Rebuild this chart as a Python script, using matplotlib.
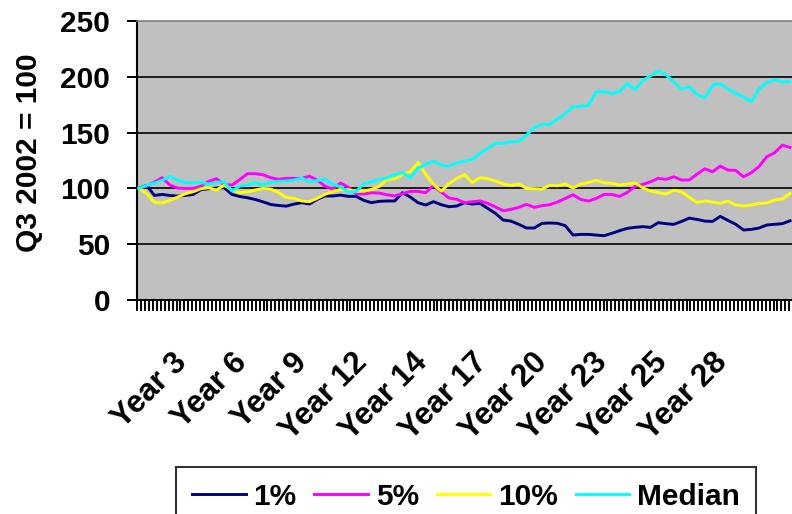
import numpy as np
import matplotlib
matplotlib.use("Agg")
import matplotlib.pyplot as plt
from matplotlib.ticker import FixedLocator

# Index values (Q3 2002 = 100) for each percentile path
p1 = [100, 102.7, 93.7, 94.6, 93.7, 93.1, 93.7, 94.6, 98.8, 99.7, 100.3, 100.6, 94.6, 92.8,
      91.6, 90.1, 88, 85.6, 84.7, 84.1, 85.9, 87.2, 86, 90.2, 93.2, 93.2, 94, 92.9, 92.9,
      89.3, 87.2, 88.4, 88.7, 88.7, 96.1, 92.3, 87.2, 85.1, 88.1, 85.4, 83.6, 84.2, 87.2,
      86, 86.6, 82.1, 77.6, 71.6, 70.7, 67.8, 64.5, 64.5, 68.7, 69, 68.7, 66.6, 58.2, 58.8,
      58.8, 58.2, 57.6, 59.7, 62.1, 64.2, 65.1, 65.7, 65.1, 69.3, 68.4, 67.8, 70.4, 73.4,
      72.2, 70.7, 70.4, 74.9, 71.3, 67.8, 62.7, 63.3, 64.5, 67.2, 67.8, 68.4, 71]
p5 = [100, 101.8, 105.7, 109.6, 103, 100.3, 100, 100, 102, 106.3, 108.7, 103.3, 103, 107.8,
      113.2, 113.2, 112.3, 109.6, 108.1, 109, 109, 108.9, 111, 107.4, 102.1, 99.4, 104.8,
      101.2, 95.2, 94.9, 96.1, 95.8, 94.3, 93.2, 95.2, 97.3, 97.3, 96.1, 102.7, 96.7, 91.4,
      90.2, 87.2, 88.1, 88.7, 86.6, 83.3, 80, 81.2, 83, 85.7, 83, 84.5, 85.4, 87.8, 91, 94.3,
      90.1, 88.7, 91, 94.6, 94.6, 92.8, 96.4, 101.8, 103.6, 106, 109, 108.1, 110.4, 107.5,
      107.5, 112.8, 117.6, 114.9, 120, 116.4, 116.1, 110.4, 114, 119.7, 128.4, 131.9, 138.8,
      136.7]
p10 = [100, 95.5, 87.7, 87.1, 89.2, 92.2, 95.2, 97, 99.7, 100.6, 98.5, 102.7, 98.8, 96.1, 97,
       98.5, 100, 99.4, 96.4, 91.9, 91, 88.7, 88.1, 91.1, 94.6, 97.3, 99.1, 98.8, 97.3, 97.6,
       99.1, 101.8, 108, 108.6, 112.5, 114.9, 123, 112.5, 103.6, 97.6, 104.2, 108.9, 112.5,
       105.1, 109.6, 108.7, 106.6, 103.9, 102.7, 103.9, 100, 99.7, 99.4, 102.7, 102.4, 103.9,
       100.3, 103.9, 105.4, 107.2, 105.1, 104.5, 103, 103.9, 104.8, 100.6, 97.6, 96.4, 94.9,
       98.2, 97, 91.9, 87.5, 88.7, 87.8, 86.6, 88.7, 85.1, 84.2, 85.1, 86.6, 86.9, 89.6, 90.4,
       95.5]
median = [100, 102.7, 104.8, 107.2, 110.8, 107.2, 105.1, 105.1, 105.1, 103.9, 105.4, 105.7,
          97.6, 102.1, 103, 105.1, 103, 105.4, 106.3, 106.6, 107.5, 109.2, 106, 107.1, 108,
          103.6, 101.5, 97, 97, 104.2, 106, 108, 109.5, 112.2, 114.3, 109.5, 117.9, 121.7,
          124.4, 121.1, 119.9, 122.9, 124.4, 126, 131.3, 135.8, 140.6, 140.3, 141.8, 142.4,
          147.8, 154.6, 157.3, 157.3, 162.1, 167.2, 173.1, 173.7, 174.3, 186.6, 186.6, 185.1,
          186.6, 194, 188.4, 196.7, 200.9, 205.4, 201.8, 195.5, 189, 191, 184.2, 181.2, 192.5,
          193.7, 189, 185.1, 181.8, 177.6, 189.3, 194.9, 197.3, 195.5, 196.1]

series_names = ["1%", "5%", "10%", "Median"]
year_labels = ["Year 3", "Year 6", "Year 9", "Year 12", "Year 14",
               "Year 17", "Year 20", "Year 23", "Year 25", "Year 28"]
y_ticks = [0, 50, 100, 150, 200, 250]

plt.rcParams["font.family"] = ["Liberation Sans", "DejaVu Sans"]
plt.rcParams["font.weight"] = "bold"
FS = 21.5

fig = plt.figure(figsize=(7.92, 5.14), dpi=100)
ax = fig.add_axes([137 / 792, 214 / 514, 655 / 792, 279 / 514])
ax.set_facecolor("#C0C0C0")

# horizontal gridlines inside the plot area
for yv in y_ticks[1:-1]:
    ax.axhline(yv, color="black", lw=1.2, zorder=1)

colors = ["#000080", "#FF00FF", "#FFFF00", "#00FFFF"]
x = np.arange(len(p1))
for vals, name, c in zip([p1, p5, p10, median], series_names, colors):
    ax.plot(x, vals, color=c, lw=2.1, label=name, zorder=3)

ax.set_xlim(-0.245, 84.25)
ax.set_ylim(0, 250)

# spines
ax.spines["right"].set_visible(False)
ax.spines["top"].set_color("#808080")
ax.spines["top"].set_linewidth(1.2)
for s in ("left", "bottom"):
    ax.spines[s].set_color("black")
    ax.spines[s].set_linewidth(1.5)

# y axis
ax.set_yticks(y_ticks)
ax.set_yticklabels([str(v) for v in y_ticks])
ax.tick_params(axis="y", direction="out", length=7.2, width=1.4, pad=12,
               labelsize=FS, color="black")

# x axis: dense comb of category ticks, rotated year labels
first_label, label_step = 6.4, 7.74
label_pos = [first_label + label_step * i for i in range(len(year_labels))]
ax.set_xticks(label_pos)
ax.set_xticklabels(year_labels, rotation=45, ha="right", va="baseline",
                   rotation_mode="anchor", fontsize=22.5, fontweight="bold")
ax.tick_params(axis="x", which="major", length=0, pad=46)
ax.xaxis.set_minor_locator(FixedLocator(np.arange(-0.245, 84.3, 0.51)))
ax.tick_params(axis="x", which="minor", direction="out", length=8, width=1.4,
               color="black")

fig.text(29 / 792, 1 - 153 / 514, "Q3 2002 = 100", rotation=90, ha="center",
         va="center", fontsize=FS, fontweight="bold")

leg = fig.legend(loc="upper left", bbox_to_anchor=(175.7 / 792, 1 - 466.5 / 514),
                 ncol=4, prop={"size": FS, "weight": "bold"}, frameon=True,
                 fancybox=False, edgecolor="black", borderpad=0.55,
                 handlelength=1.8, handletextpad=0.25, columnspacing=0.6,
                 borderaxespad=0)
leg.get_frame().set_linewidth(1.5)
leg.get_frame().set_facecolor("white")

fig.savefig("out.png", dpi=100)
